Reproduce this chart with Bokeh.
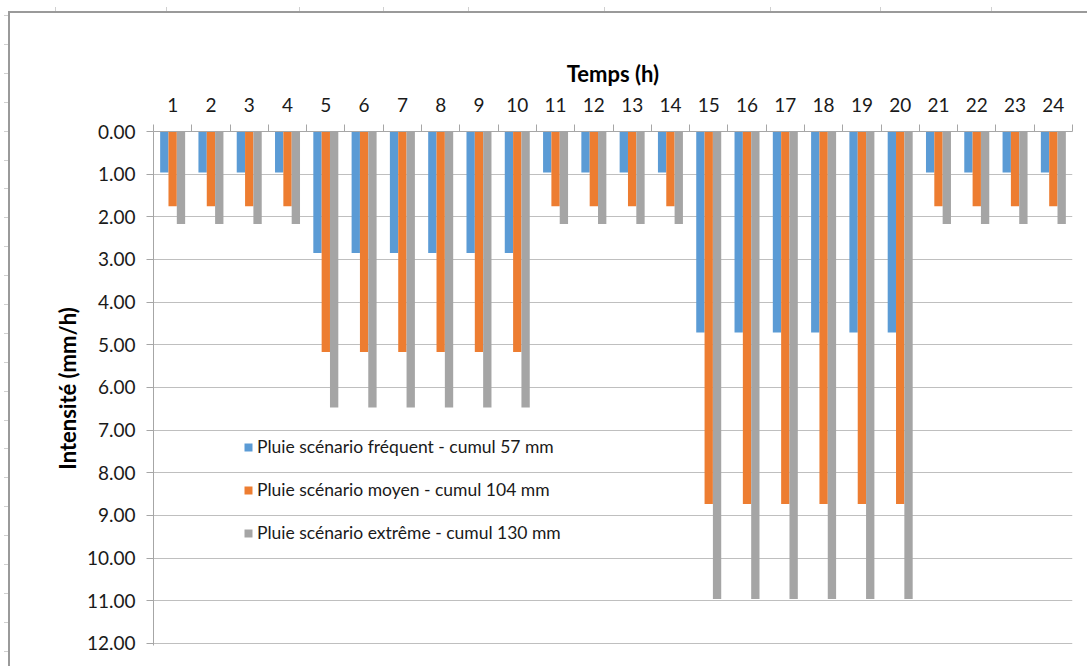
from bokeh.plotting import figure
from bokeh.models import (Range1d, FixedTicker, NumeralTickFormatter, ColumnDataSource,
                          Legend, LegendItem, InlineStyleSheet)
from bokeh.transform import dodge
from bokeh.embed import file_html
from bokeh.resources import INLINE

hours = list(range(1, 25))
frequent = [0.96, 0.96, 0.96, 0.96, 2.85, 2.85, 2.85, 2.85, 2.85, 2.85, 0.96, 0.96,
            0.96, 0.96, 4.71, 4.71, 4.71, 4.71, 4.71, 4.71, 0.96, 0.96, 0.96, 0.96]
moyen = [1.75, 1.75, 1.75, 1.75, 5.17, 5.17, 5.17, 5.17, 5.17, 5.17, 1.75, 1.75,
         1.75, 1.75, 8.73, 8.73, 8.73, 8.73, 8.73, 8.73, 1.75, 1.75, 1.75, 1.75]
extreme = [2.17, 2.17, 2.17, 2.17, 6.47, 6.47, 6.47, 6.47, 6.47, 6.47, 2.17, 2.17,
           2.17, 2.17, 10.96, 10.96, 10.96, 10.96, 10.96, 10.96, 2.17, 2.17, 2.17, 2.17]
series_labels = ["Pluie scénario fréquent - cumul 57 mm",
                 "Pluie scénario moyen - cumul 104 mm",
                 "Pluie scénario extrême - cumul 130 mm"]
y_ticks = list(range(0, 13))
colors = ["#5B9BD5", "#ED7D31", "#A5A5A5"]

FONT = "Lato"
src = ColumnDataSource(dict(hour=hours, f=frequent, m=moyen, e=extreme))

# decorative sheet frame (left and top lines with small cell marks), CSS overlay
tick_layers = []
for k in range(23):
    ty = round(15 + 28.9 * k)
    tick_layers.append(f"linear-gradient(#d0d0d0,#d0d0d0) 4px {ty}px / 4px 1px no-repeat")
for tx in [55, 166, 299, 383, 468, 604, 770, 880, 991]:
    tick_layers.append(f"linear-gradient(#d0d0d0,#d0d0d0) {tx}px 7px / 1px 4px no-repeat")
css = (":host::after { content: ''; position: absolute; left: 8px; top: 11px; right: 0; bottom: 0; "
       "box-sizing: border-box; border-left: 2px solid #9a9a9a; border-top: 2px solid #9a9a9a; "
       "pointer-events: none; }\n"
       ":host::before { content: ''; position: absolute; left: 0; top: 0; width: 1000px; height: 660px; "
       "z-index: 1; pointer-events: none; background: " + ", ".join(tick_layers) + "; }")

p = figure(width=1087, height=666, output_backend="svg", toolbar_location=None,
           x_range=Range1d(0.5, 24.5), y_range=Range1d(12.05, 0),
           x_axis_location="above",
           min_border_left=153, min_border_right=15, min_border_top=131, min_border_bottom=21)
p.stylesheets = [InlineStyleSheet(css=css)]
p.outline_line_color = None
p.background_fill_color = "white"
p.border_fill_color = "white"

W = 0.2176
r1 = p.vbar(x=dodge("hour", -W), top="f", bottom=0, width=W, source=src,
            fill_color=colors[0], line_color=None)
r2 = p.vbar(x=dodge("hour", 0), top="m", bottom=0, width=W, source=src,
            fill_color=colors[1], line_color=None)
r3 = p.vbar(x=dodge("hour", W), top="e", bottom=0, width=W, source=src,
            fill_color=colors[2], line_color=None)

# X axis (top)
xa = p.xaxis[0]
xa.ticker = FixedTicker(ticks=hours, minor_ticks=[h - 0.5 for h in hours] + [24.5])
xa.major_tick_out = 0
xa.major_tick_in = 0
xa.minor_tick_out = 7
xa.minor_tick_in = 0
xa.minor_tick_line_color = "#a6a6a6"
xa.axis_line_color = "#a6a6a6"
xa.major_label_text_font = FONT
xa.major_label_text_font_size = "19px"
xa.major_label_text_color = "#1a1a1a"
xa.major_label_standoff = 13
xa.axis_label = "Temps (h)"
xa.axis_label_text_font = FONT
xa.axis_label_text_font_style = "bold"
xa.axis_label_text_font_size = "22px"
xa.axis_label_text_color = "#000000"
xa.axis_label_standoff = 8

# Y axis
ya = p.yaxis[0]
ya.ticker = FixedTicker(ticks=y_ticks)
ya.formatter = NumeralTickFormatter(format="0.00")
ya.major_tick_out = 7
ya.major_tick_in = 0
ya.minor_tick_out = 0
ya.minor_tick_in = 0
ya.major_tick_line_color = "#a6a6a6"
ya.axis_line_color = "#a6a6a6"
ya.major_label_text_font = FONT
ya.major_label_text_font_size = "19px"
ya.major_label_text_color = "#1a1a1a"
ya.major_label_standoff = 11
ya.axis_label = "Intensité (mm/h)"
ya.axis_label_text_font = FONT
ya.axis_label_text_font_style = "bold"
ya.axis_label_text_font_size = "22px"
ya.axis_label_text_color = "#000000"
ya.axis_label_standoff = 3

p.xgrid.grid_line_color = None
p.ygrid.ticker = FixedTicker(ticks=y_ticks)
p.ygrid.grid_line_color = "#bfbfbf"
p.ygrid.grid_line_width = 1

legend = Legend(items=[LegendItem(label=series_labels[0], renderers=[r1]),
                       LegendItem(label=series_labels[1], renderers=[r2]),
                       LegendItem(label=series_labels[2], renderers=[r3])],
                location=(90, 102), orientation="vertical",
                glyph_width=10, glyph_height=10, label_standoff=4, label_height=20,
                spacing=22, padding=0, margin=0, border_line_color=None,
                background_fill_alpha=0, label_text_font=FONT,
                label_text_font_size="17.5px", label_text_color="#1a1a1a")
p.add_layout(legend)

html = file_html(p, INLINE)
html = html.replace("<head>", "<head><style>html, body { margin: 0; overflow: hidden; }</style>", 1)
open("out.html", "w").write(html)
